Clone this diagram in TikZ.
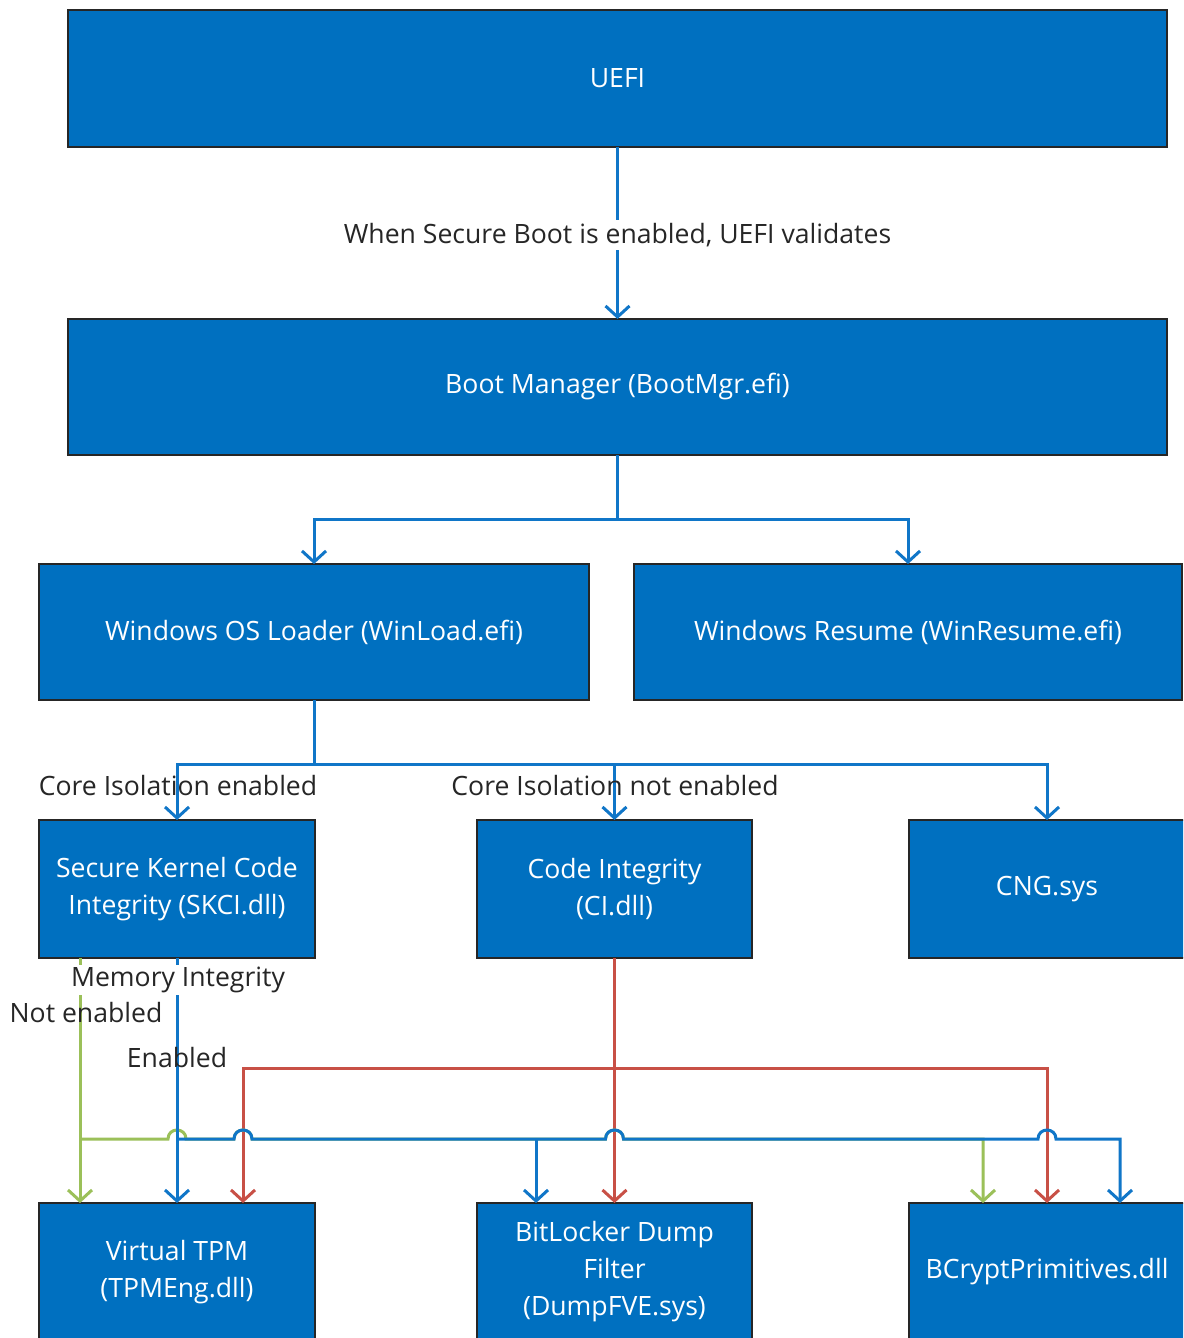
\documentclass[tikz,border=0pt]{standalone}
\usepackage{fontspec}
\setmainfont{Open Sans}
\usetikzlibrary{arrows.meta}
\definecolor{boxblue}{RGB}{0,112,192}
\definecolor{lineblue}{RGB}{16,118,200}
\definecolor{linegreen}{RGB}{155,192,89}
\definecolor{linered}{RGB}{200,80,70}
\definecolor{labelgray}{RGB}{38,38,38}
\tikzset{
  box/.style={draw=black!85, line width=2pt, fill=boxblue, text=white, align=center,
    inner sep=0pt, outer sep=0pt, font=\fontsize{26.6}{37}\selectfont},
  lbl/.style={text=labelgray, font=\fontsize{26.6}{37}\selectfont, inner sep=1pt},
  conn/.style={line width=3pt},
  tip/.style={-{Straight Barb[length=11pt,width=24pt,line width=3pt]}},
}
\begin{document}
\begin{tikzpicture}[x=1pt,y=-1pt]
\useasboundingbox (0,0) rectangle (1183,1338);
\clip (0,0) rectangle (1183,1338);
\fill[white] (0,0) rectangle (1183,1338);

% boxes
\node[box, minimum width=1099pt, minimum height=137pt] (uefi) at (617.5,78.5) {UEFI};
\node[box, minimum width=1099pt, minimum height=136pt] (boot) at (617.5,387) {Boot Manager (BootMgr.efi)};
\node[box, minimum width=550pt, minimum height=136pt] (winload) at (314,632) {Windows OS Loader (WinLoad.efi)};
\node[box, minimum width=548pt, minimum height=136pt] (winresume) at (908,632) {Windows Resume (WinResume.efi)};
\node[box, minimum width=276pt, minimum height=138pt] (skci) at (177,889) {Secure Kernel Code\\Integrity (SKCI.dll)};
\node[box, minimum width=275pt, minimum height=138pt] (ci) at (614.5,889) {Code Integrity\\(CI.dll)};
\node[box, minimum width=276pt, minimum height=138pt] (cng) at (1047,889) {CNG.sys};
\node[box, minimum width=276pt, minimum height=138pt] (vtpm) at (177,1272) {Virtual TPM\\(TPMEng.dll)};
\node[box, minimum width=275pt, minimum height=138pt] (bitlocker) at (614.5,1272) {BitLocker Dump\\Filter\\(DumpFVE.sys)};
\node[box, minimum width=276pt, minimum height=138pt] (bcrypt) at (1047,1272) {BCryptPrimitives.dll};

% helper coordinates
\coordinate (j1) at (617.5,519);
\coordinate (j2) at (314,764);
\coordinate (ry) at (0,1068);
\coordinate (hy) at (0,1139);
\coordinate (skG) at ([xshift=-97pt]skci.south);
\coordinate (vtG) at ([xshift=-97pt]vtpm.north);
\coordinate (vtR) at ([xshift=66pt]vtpm.north);
\coordinate (blB) at ([xshift=-78.5pt]bitlocker.north);
\coordinate (bcG) at ([xshift=-64pt]bcrypt.north);
\coordinate (bcB) at ([xshift=73pt]bcrypt.north);

% UEFI -> Boot Manager
\draw[conn, lineblue, tip] (uefi) -- (boot)
  node[midway, lbl, fill=white, inner sep=3pt, yshift=-2pt] (secboot) {When Secure Boot is enabled, UEFI validates};

% Boot Manager -> loaders
\draw[conn, lineblue] (boot.south) -- (j1);
\draw[conn, lineblue, tip] (j1) -| (winload.north);
\draw[conn, lineblue, tip] (j1) -| (winresume.north);

% WinLoad -> SKCI / CI / CNG
\draw[conn, lineblue] (winload.south) -- (j2);
\draw[conn, lineblue, tip] (j2) -| (skci.north);
\draw[conn, lineblue, tip] (j2) -| (cng.north);
\draw[conn, lineblue, tip] (ci.north |- j2) -- (ci.north);

\node[lbl] (ciEn) at (178,786) {Core Isolation enabled};
\node[lbl] (ciNot) at (615,786) {Core Isolation not enabled};

% red lines from CI
\draw[conn, linered, tip] (ci.south) -- (bitlocker.north);
\draw[conn, linered, tip] (ci.south |- ry) -| (vtR);
\draw[conn, linered, tip] (ci.south |- ry) -| (bcrypt.north);

% green lines (Memory Integrity not enabled)
\draw[conn, linegreen, tip] (skG) -- (vtG);
\draw[conn, linegreen, tip]
  (skG |- hy) -- (168,1139) .. controls (168,1127) and (186,1127) .. (186,1139)
  -- (234,1139) .. controls (234,1127) and (252,1127) .. (252,1139)
  -- (605.5,1139) .. controls (605.5,1127) and (623.5,1127) .. (623.5,1139)
  -- (bcG |- hy) -- (bcG);

% blue lines (Memory Integrity enabled)
\draw[conn, lineblue, tip] (skci.south) -- (vtpm.north);
\draw[conn, lineblue, tip]
  (skci.south |- hy) -- (234,1139) .. controls (234,1127) and (252,1127) .. (252,1139)
  -- (605.5,1139) .. controls (605.5,1127) and (623.5,1127) .. (623.5,1139)
  -- (1038,1139) .. controls (1038,1127) and (1056,1127) .. (1056,1139)
  -- (bcB |- hy) -- (bcB);
\draw[conn, lineblue, tip] (blB |- hy) -- (blB);

% labels on SKCI branch
\node[lbl, fill=white, inner sep=2pt] (memint) at (178,980) {Memory Integrity};
\node[lbl] (noten) at (86,1013) {Not enabled};
\node[lbl] (en) at (177,1058) {Enabled};
\end{tikzpicture}
\end{document}
